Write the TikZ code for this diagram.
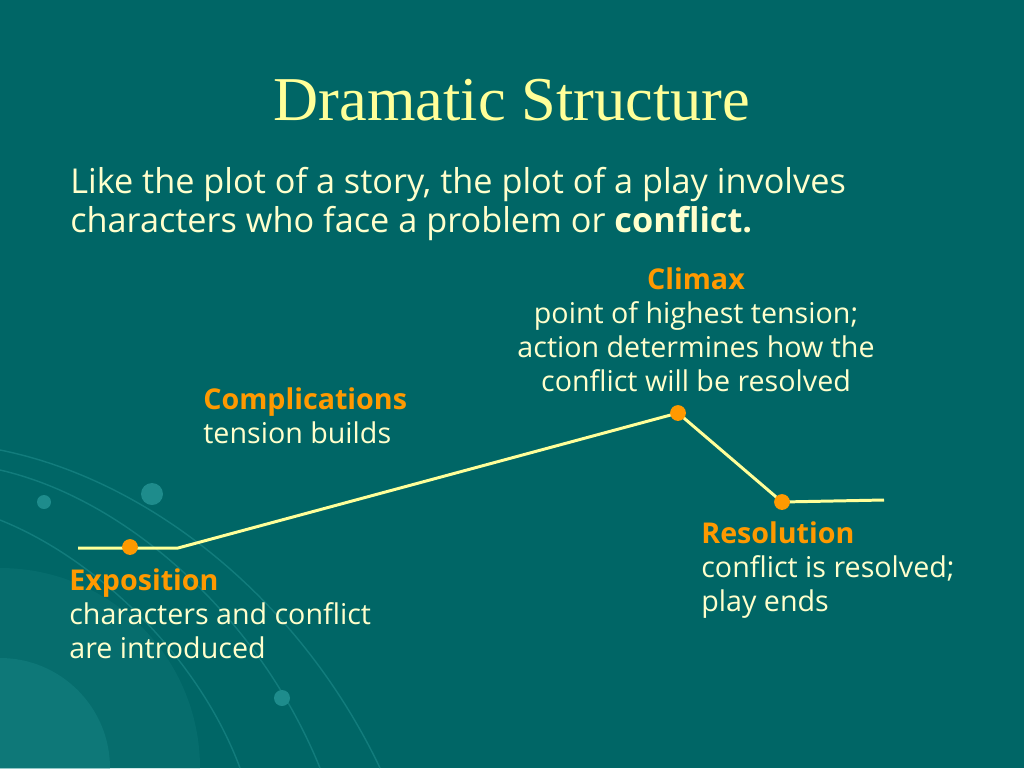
\documentclass[tikz,border=0pt]{standalone}
\usepackage{fontspec}
\setmainfont{Open Sans}
\newfontfamily\titlefont{Liberation Serif}
\definecolor{bg}{RGB}{0,102,102}
\definecolor{ttl}{RGB}{255,255,153}
\definecolor{txt}{RGB}{255,255,204}
\definecolor{lab}{RGB}{255,153,0}
\definecolor{deco}{RGB}{30,140,140}
\begin{document}
\begin{tikzpicture}[x=0.02cm,y=-0.02cm,
  body/.style={text=txt,font=\fontsize{19.5}{22.1}\selectfont,anchor=base west,align=left,inner sep=0},
  lbl/.style={text=txt,font=\fontsize{16.3}{19.3}\selectfont,anchor=base west,align=left,inner sep=0},
  plot/.style={draw=ttl,line width=1.7pt},
  dot/.style={circle,fill=lab,minimum size=9pt,inner sep=0}]
\fill[bg] (0,0) rectangle (1024,768);
\useasboundingbox (0,0) rectangle (1024,768);
\fill[deco,opacity=0.35] (0,768) circle (110);
\fill[deco,opacity=0.2] (0,768) circle (200);
\begin{scope}[draw=deco,line width=0.8pt,opacity=0.6]
\draw (0,450) .. controls (150,480) and (300,600) .. (380,768);
\draw (0,470) .. controls (130,500) and (260,620) .. (320,768);
\draw (0,520) .. controls (100,560) and (200,660) .. (240,768);
\end{scope}
\fill[deco] (44,502) circle (7);
\fill[deco] (152,494) circle (11);
\fill[deco] (282,698) circle (8);
\node[text=ttl,font=\titlefont\fontsize{35.5}{40}\selectfont,inner sep=0] (title) at (512,100) {Dramatic Structure};
\node[body] (intro) at (70,232) {Like the plot of a story, the plot of a play involves\\characters who face a problem or \textbf{conflict.}};
\coordinate (p0) at (78,548);
\coordinate (p1) at (178,548);
\coordinate (p2) at (678,413);
\coordinate (p3) at (782,502);
\coordinate (p4) at (884,500);
\draw[plot] (p0) -- (p1) -- (p2) -- (p3) -- (p4);
\node[dot] (d1) at (130,547) {};
\node[dot] (d2) at (p2) {};
\node[dot] (d3) at (p3) {};
\node[lbl,anchor=base,align=center] (climax) at (696,391) {{\color{lab}\bfseries Climax}\\point of highest tension;\\action determines how the\\conflict will be resolved};
\node[lbl] (comp) at (203,443) {{\color{lab}\bfseries Complications}\\tension builds};
\node[lbl] (expo) at (69,658) {{\color{lab}\bfseries Exposition}\\characters and conflict\\are introduced};
\node[lbl] (reso) at (701,611) {{\color{lab}\bfseries Resolution}\\conflict is resolved;\\play ends};
\end{tikzpicture}
\end{document}
